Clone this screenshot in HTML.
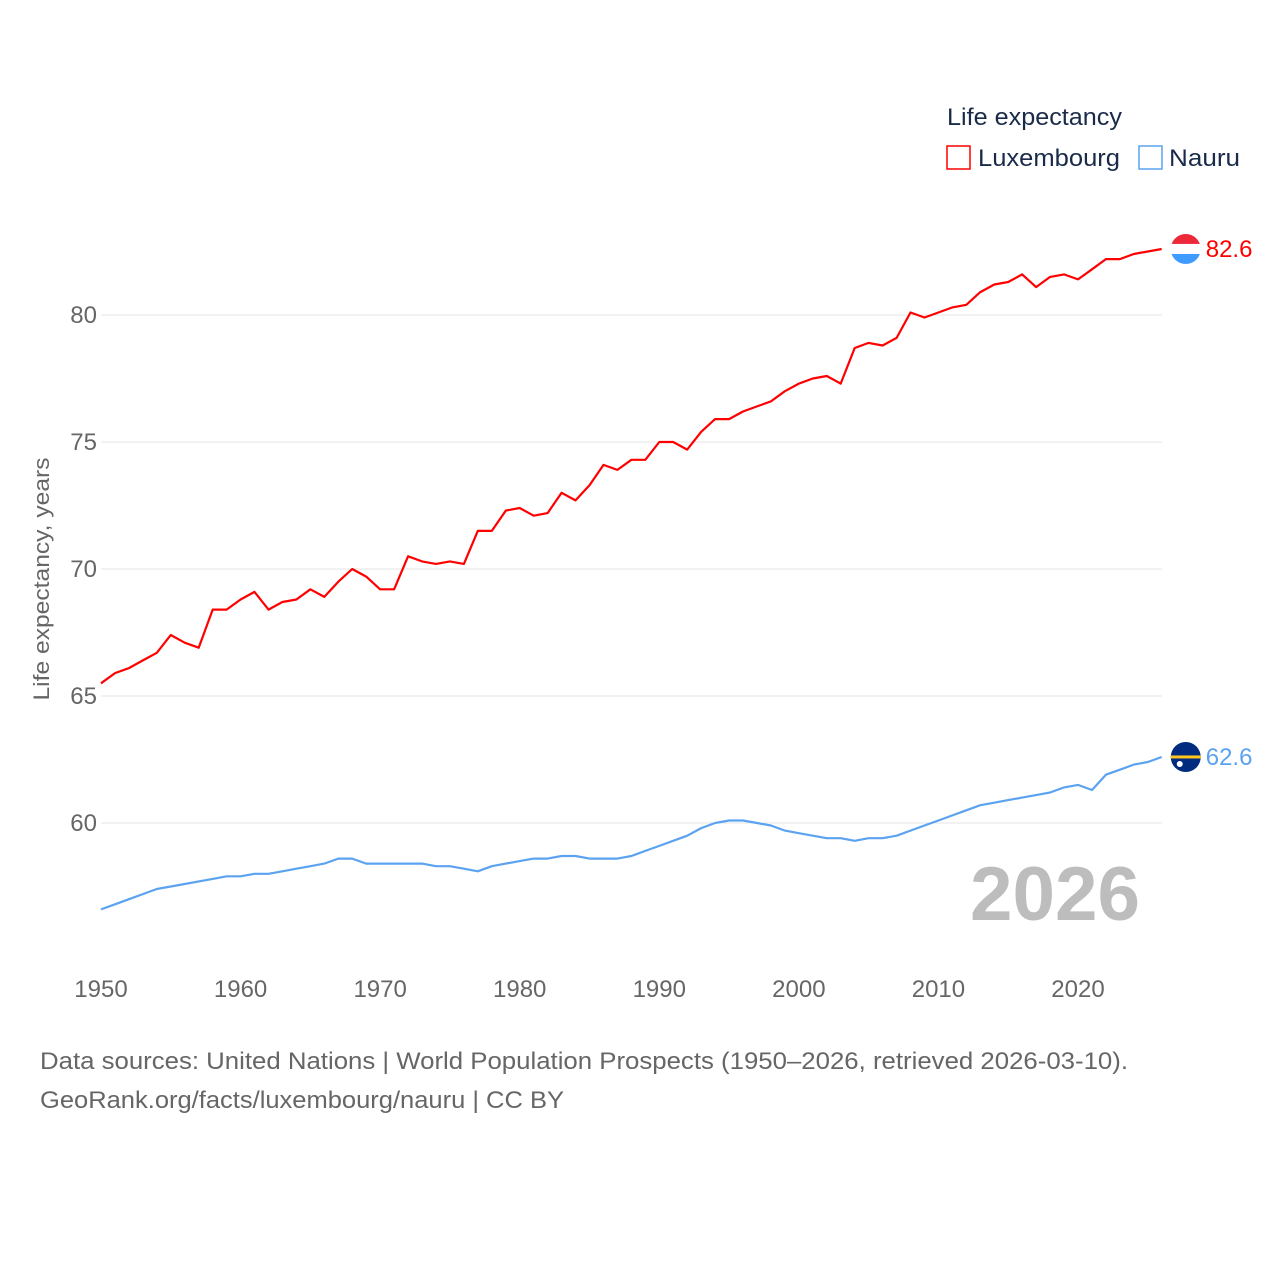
<!DOCTYPE html>
<html><head><meta charset="utf-8">
<style>
html,body{margin:0;padding:0;background:#fff;}
svg{display:block;font-family:"Liberation Sans",sans-serif;}
</style></head>
<body>
<svg id="chart" width="1280" height="1280" viewBox="0 0 1280 1280">
  <g id="grid"></g>
  <g id="yticks"></g>
  <g id="xticks"></g>
  <text x="49" y="579" transform="rotate(-90 49 579)" text-anchor="middle" font-size="22" fill="#666" textLength="243" lengthAdjust="spacingAndGlyphs">Life expectancy, years</text>
  <text x="970" y="920" font-size="76" font-weight="bold" fill="#bdbdbd" textLength="170" lengthAdjust="spacingAndGlyphs">2026</text>
  <g id="series"></g>
  <g>
    <text x="947" y="125" font-size="24" fill="#1a2b4a" textLength="175" lengthAdjust="spacingAndGlyphs">Life expectancy</text>
    <g>
      <rect x="947" y="146" width="23" height="23" fill="none" stroke="#ff0000" stroke-width="1.5"/>
      <text x="978" y="166" font-size="24" fill="#1a2b4a" textLength="142" lengthAdjust="spacingAndGlyphs">Luxembourg</text>
    </g>
    <g>
      <rect x="1139" y="146" width="23" height="23" fill="none" stroke="#5ba3f0" stroke-width="1.5"/>
      <text x="1169" y="166" font-size="24" fill="#1a2b4a" textLength="71" lengthAdjust="spacingAndGlyphs">Nauru</text>
    </g>
  </g>
  <text x="40" y="1069" font-size="24" fill="#666" textLength="1088" lengthAdjust="spacingAndGlyphs">Data sources: United Nations | World Population Prospects (1950–2026, retrieved 2026-03-10).</text>
  <text x="40" y="1108" font-size="24" fill="#666" textLength="524" lengthAdjust="spacingAndGlyphs">GeoRank.org/facts/luxembourg/nauru | CC BY</text>
</svg>
<script>
const years = [];
for (let y = 1950; y <= 2026; y++) years.push(y);
const luxembourg = [65.5,65.9,66.1,66.4,66.7,67.4,67.1,66.9,68.4,68.4,68.8,69.1,68.4,68.7,68.8,69.2,68.9,69.5,70.0,69.7,69.2,69.2,70.5,70.3,70.2,70.3,70.2,71.5,71.5,72.3,72.4,72.1,72.2,73.0,72.7,73.3,74.1,73.9,74.3,74.3,75.0,75.0,74.7,75.4,75.9,75.9,76.2,76.4,76.6,77.0,77.3,77.5,77.6,77.3,78.7,78.9,78.8,79.1,80.1,79.9,80.1,80.3,80.4,80.9,81.2,81.3,81.6,81.1,81.5,81.6,81.4,81.8,82.2,82.2,82.4,82.5,82.6];
const nauru = [56.6,56.8,57.0,57.2,57.4,57.5,57.6,57.7,57.8,57.9,57.9,58.0,58.0,58.1,58.2,58.3,58.4,58.6,58.6,58.4,58.4,58.4,58.4,58.4,58.3,58.3,58.2,58.1,58.3,58.4,58.5,58.6,58.6,58.7,58.7,58.6,58.6,58.6,58.7,58.9,59.1,59.3,59.5,59.8,60.0,60.1,60.1,60.0,59.9,59.7,59.6,59.5,59.4,59.4,59.3,59.4,59.4,59.5,59.7,59.9,60.1,60.3,60.5,60.7,60.8,60.9,61.0,61.1,61.2,61.4,61.5,61.3,61.9,62.1,62.3,62.4,62.6];
const yTicks = [60,65,70,75,80];
const xTicks = [1950,1960,1970,1980,1990,2000,2010,2020];

const NS = "http://www.w3.org/2000/svg";
const xs = yr => 101 + (yr - 1950) * (1078 - 101) / 70;
const ys = v => 823 - (v - 60) * (823 - 315) / 20;
function mk(tag, attrs, parent){ const e = document.createElementNS(NS, tag); for (const k in attrs) e.setAttribute(k, attrs[k]); parent.appendChild(e); return e; }

const grid = document.getElementById('grid'), yt = document.getElementById('yticks'), xt = document.getElementById('xticks'), ser = document.getElementById('series');
yTicks.forEach(v => {
  const l = mk('line', {x1:101, x2:1162, y1:ys(v), y2:ys(v), stroke:'#e6e6e6', 'stroke-width':1}, grid);
  
  
  const t = mk('text', {x:97, y:ys(v)+8, 'text-anchor':'end', 'font-size':24, fill:'#666'}, yt);
  t.textContent = v;
  
  
});
xTicks.forEach(v => {
  const t = mk('text', {x:xs(v), y:997, 'text-anchor':'middle', 'font-size':24, fill:'#666'}, xt);
  t.textContent = v;
  
  
});
function drawLine(vals, color, name){
  const d = vals.map((v,i) => (i ? 'L' : 'M') + xs(years[i]).toFixed(1) + ',' + ys(v).toFixed(1)).join('');
  const p = mk('path', {d:d, fill:'none', stroke:color, 'stroke-width':2.2, 'stroke-linejoin':'round'}, ser);
  
  
  const last = vals[vals.length-1], lx = xs(years[years.length-1]), ly = ys(last);
  const lbl = mk('text', {x:lx+44, y:ly+8, 'font-size':24, fill:color}, ser);
  lbl.textContent = last.toFixed(1);
  
  
  return {lx, ly};
}
const a = drawLine(luxembourg, '#ff0000', 'luxembourg');
const b = drawLine(nauru, '#5ba3f0', 'nauru');
const f1 = mk('g', {}, ser);


const cx1 = a.lx + 24, cy1 = a.ly;
const clip = mk('clipPath', {id:'c1'}, f1);
mk('circle', {cx:cx1, cy:cy1, r:15}, clip);
const g1 = mk('g', {'clip-path':'url(#c1)'}, f1);
mk('rect', {x:cx1-15, y:cy1-15, width:30, height:10, fill:'#ed2939'}, g1);
mk('rect', {x:cx1-15, y:cy1-5, width:30, height:11, fill:'#fff'}, g1);
mk('rect', {x:cx1-15, y:cy1+5, width:30, height:10, fill:'#3f9bff'}, g1);
const f2 = mk('g', {}, ser);


const cx2 = b.lx + 24, cy2 = b.ly;
mk('circle', {cx:cx2, cy:cy2, r:15, fill:'#002b7f'}, f2);
mk('rect', {x:cx2-15, y:cy2-1.5, width:30, height:3, fill:'#ffc61e'}, f2);
mk('circle', {cx:cx2-6, cy:cy2+7, r:3, fill:'#fff'}, f2);
</script>
</body></html>
